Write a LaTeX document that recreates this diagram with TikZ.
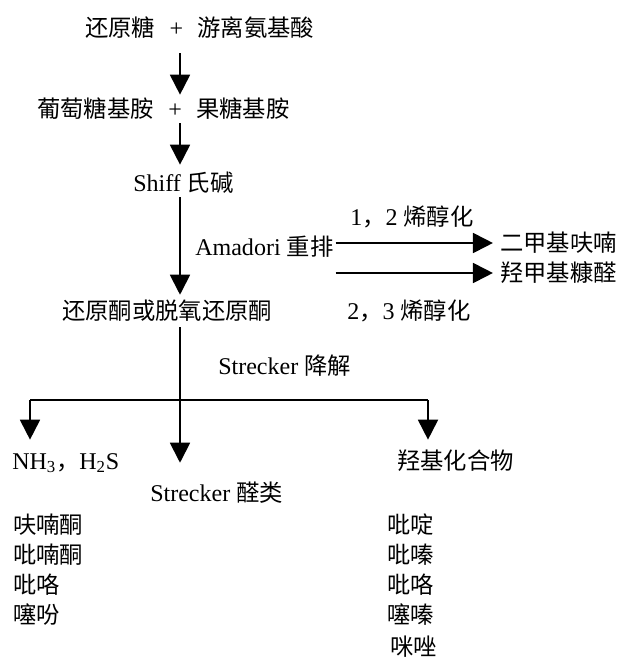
\documentclass[tikz,border=0pt]{standalone}
\usepackage{fontspec}
\setmainfont{Liberation Serif}[Scale=1.03]
\newfontfamily\cjk{Noto Sans CJK SC}
\usetikzlibrary{arrows.meta}
\begin{document}
\begin{tikzpicture}[x=0.75pt,y=-0.75pt,
  lbl/.style={anchor=west,inner sep=0pt,text height=13pt,text depth=1pt,font=\fontsize{17.5}{20}\selectfont},
  arr/.style={line width=1.4pt,-{Triangle[width=15pt,length=15pt]}},
  ln/.style={line width=1.4pt}]
\useasboundingbox (0,0) rectangle (630,659);
% text nodes
\node[lbl] (a) at (85,29) {{\cjk 还原糖}\hspace{0.6em}+\hspace{0.6em}{\cjk 游离氨基酸}};
\node[lbl] (b) at (37,110) {{\cjk 葡萄糖基胺}\hspace{0.6em}+\hspace{0.6em}{\cjk 果糖基胺}};
\node[lbl] (c) at (133,184) {Shiff {\cjk 氏碱}};
\node[lbl] (am) at (195,247) {Amadori {\cjk 重排}};
\node[lbl] (e12) at (350,217) {1{\cjk ，}2 {\cjk 烯醇化}};
\node[lbl] (t1) at (500,243) {\cjk 二甲基呋喃};
\node[lbl] (t2) at (500,273) {\cjk 羟甲基糠醛};
\node[lbl] (d) at (62,311) {\cjk 还原酮或脱氧还原酮};
\node[lbl] (e23) at (347,311) {2{\cjk ，}3 {\cjk 烯醇化}};
\node[lbl] (sd) at (218,366) {Strecker {\cjk 降解}};
\node[lbl] (nh) at (12,461) {NH\textsubscript{3}{\cjk ，}H\textsubscript{2}S};
\node[lbl] (hy) at (397,461) {\cjk 羟基化合物};
\node[lbl] (ald) at (150,493) {Strecker {\cjk 醛类}};
\node[lbl] (l1) at (13,525) {\cjk 呋喃酮};
\node[lbl] (l2) at (13,555) {\cjk 吡喃酮};
\node[lbl] (l3) at (13,585) {\cjk 吡咯};
\node[lbl] (l4) at (13,615) {\cjk 噻吩};
\node[lbl] (r1) at (387,525) {\cjk 吡啶};
\node[lbl] (r2) at (387,555) {\cjk 吡嗪};
\node[lbl] (r3) at (387,585) {\cjk 吡咯};
\node[lbl] (r4) at (387,615) {\cjk 噻嗪};
\node[lbl] (r5) at (390,647) {\cjk 咪唑};
% helper coordinates
\coordinate (ax) at (180,0);
\coordinate (j) at (180,400);
\coordinate (jl) at (30,400);
\coordinate (jr) at (428,400);
% main vertical chain
\draw[arr,shorten <=11pt,shorten >=4.3pt] (ax |- a.south) -- (ax |- b.north);
\draw[arr,shorten <=2.8pt,shorten >=7.3pt] (ax |- b.south) -- (ax |- c.north);
\draw[arr,shorten <=2.8pt,shorten >=5pt] (ax |- c.south) -- (ax |- d.north);
\draw[ln,shorten <=5pt] (ax |- d.south) -- (j);
% Amadori branches
\draw[arr,shorten <=1.5pt,shorten >=5.3pt] (am.east |- t1.west) -- (t1.west);
\draw[arr,shorten <=1.5pt,shorten >=5.3pt] (am.east |- t2.west) -- (t2.west);
% Strecker split
\draw[ln] (jl) -- (jr);
\draw[arr,shorten >=8.8pt] (jl) -- (jl |- nh.north);
\draw[arr,shorten >=15.5pt] (j) -- (j |- ald.north);
\draw[arr,shorten >=8.8pt] (jr) -- (jr |- hy.north);
\end{tikzpicture}
\end{document}
